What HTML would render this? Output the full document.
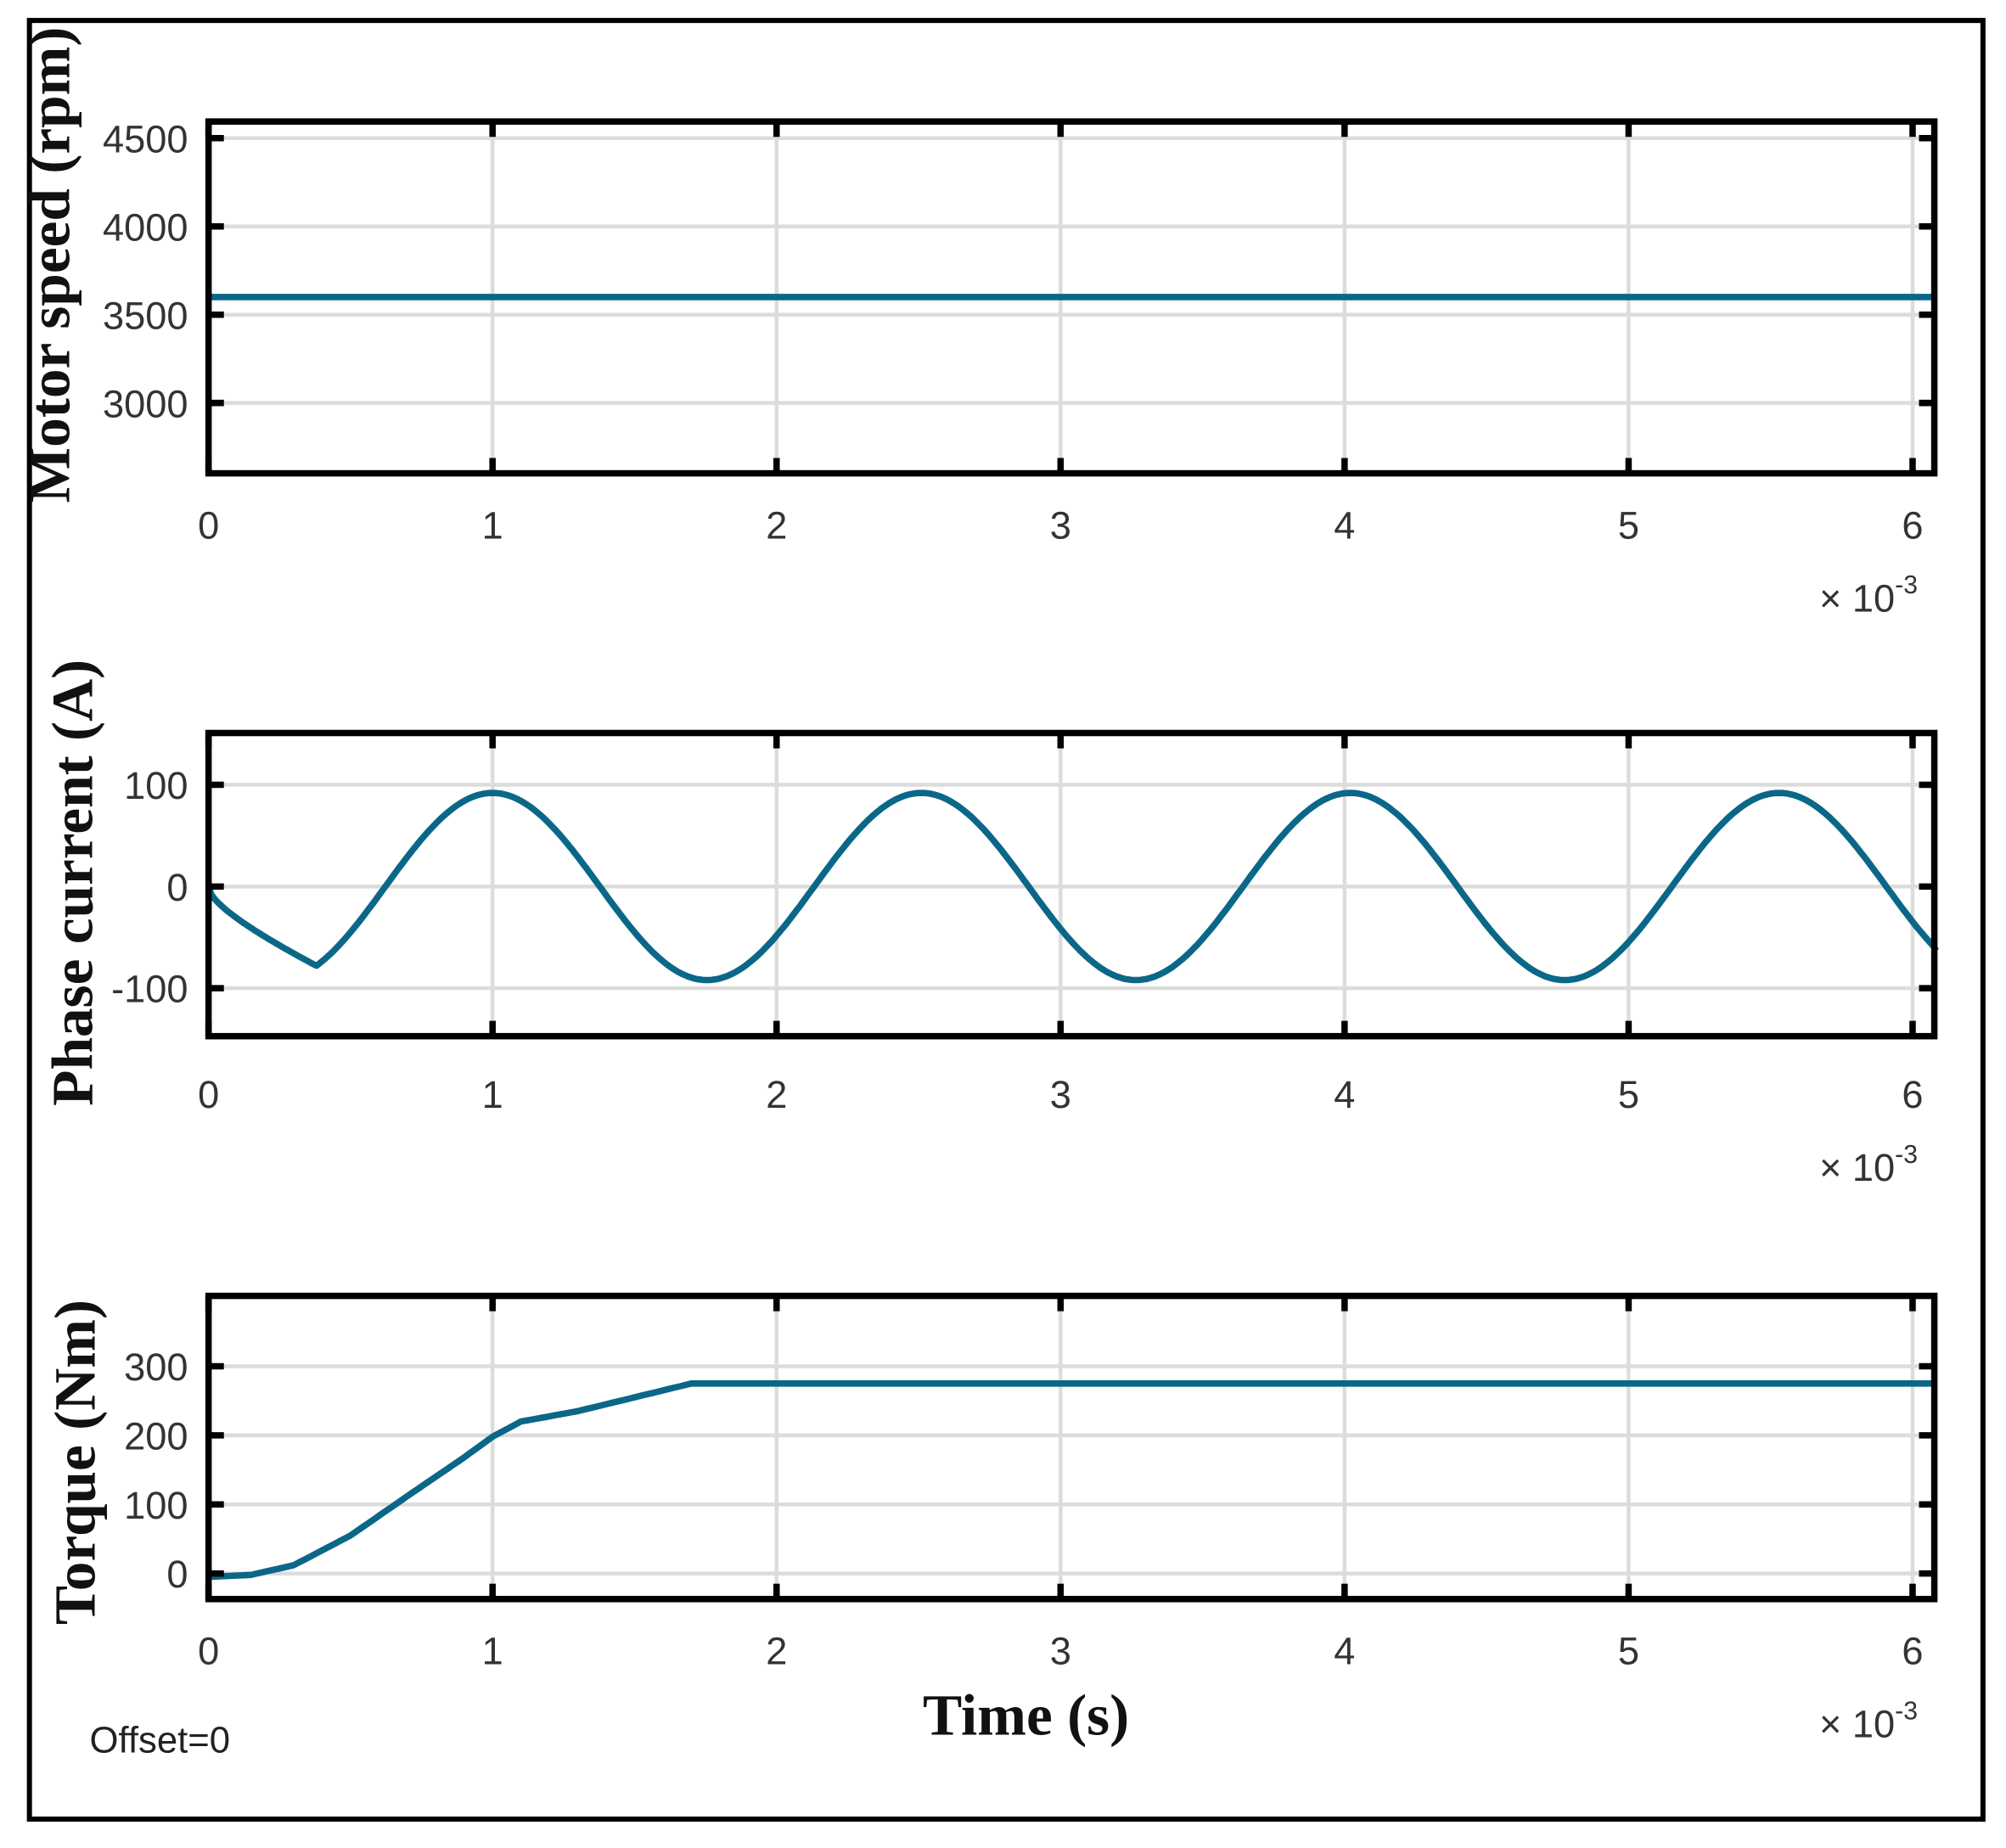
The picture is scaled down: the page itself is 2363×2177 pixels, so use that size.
<!DOCTYPE html>
<html><head><meta charset="utf-8"><style>
html,body{margin:0;padding:0;background:#fff;}
svg{display:block;}
</style></head><body>
<svg id="s" width="2363" height="2177" viewBox="0 0 1568 1444.6" xmlns="http://www.w3.org/2000/svg">
<rect x="0" y="0" width="1568" height="1445" fill="#fff"/>
<rect x="23" y="16" width="1527" height="1406" fill="none" stroke="#000" stroke-width="4"/>
<g id="g"></g>
<g font-family="Liberation Sans, sans-serif" font-size="30" fill="#333" id="t"></g>
<g font-family="Liberation Serif, serif" font-weight="bold" font-size="46" fill="#111">
<text transform="translate(54,207) rotate(-90)" text-anchor="middle">Motor speed (rpm)</text>
<text transform="translate(72,690) rotate(-90)" text-anchor="middle">Phase current (A)</text>
<text transform="translate(74,1143) rotate(-90)" text-anchor="middle">Torque (Nm)</text>
<text x="802" y="1356" text-anchor="middle">Time (s)</text>
</g>
<text x="70" y="1370" font-family="Liberation Sans, sans-serif" font-size="29" fill="#222">Offset=0</text>
</svg>
<script>
const NS="http://www.w3.org/2000/svg";
const g=document.getElementById('g'), tg=document.getElementById('t');
function el(p,n,a,txt){const e=document.createElementNS(NS,n);for(const k in a)e.setAttribute(k,a[k]);if(txt!==undefined)e.textContent=txt;p.appendChild(e);return e;}
const L=163,R=1512,U=222;
const X=t=>L+U*t;
function panel(top,bot,yt,Y,pts,labY,expY){
  for(let i=0;i<=6;i++) el(g,'line',{x1:X(i),x2:X(i),y1:top,y2:bot,stroke:'#dcdcdc','stroke-width':3});
  yt.forEach(v=>el(g,'line',{x1:L,x2:R,y1:Y(v),y2:Y(v),stroke:'#dcdcdc','stroke-width':3}));
  el(g,'polyline',{points:pts.map(p=>X(p[0]).toFixed(1)+','+Y(p[1]).toFixed(1)).join(' '),fill:'none',stroke:'#0b6788','stroke-width':5,'stroke-linejoin':'round'});
  el(g,'rect',{x:L,y:top,width:R-L,height:bot-top,fill:'none',stroke:'#000','stroke-width':5});
  for(let i=0;i<=6;i++){el(g,'line',{x1:X(i),x2:X(i),y1:top,y2:top+12,stroke:'#000','stroke-width':5});el(g,'line',{x1:X(i),x2:X(i),y1:bot,y2:bot-12,stroke:'#000','stroke-width':5});
    el(tg,'text',{x:X(i),y:labY,'text-anchor':'middle'},String(i));}
  yt.forEach(v=>{el(g,'line',{x1:L,x2:L+12,y1:Y(v),y2:Y(v),stroke:'#000','stroke-width':5});el(g,'line',{x1:R,x2:R-12,y1:Y(v),y2:Y(v),stroke:'#000','stroke-width':5});
    el(tg,'text',{x:L-16,y:Y(v)+11,'text-anchor':'end'},String(v));});
  const e=el(tg,'text',{x:1422,y:expY});e.innerHTML='× 10<tspan dy="-14" font-size="20">-3</tspan>';
}
let p1=[[0,3600],[6.08,3600]];
panel(95,370,[3000,3500,4000,4500],v=>108+(4500-v)*69/500,p1,421,478);
let p2=[];
for(let t=0;t<=6.08;t+=0.01){let v;
  if(t<0.38){const a=t/0.38; v=-78*(Math.sqrt(a)*0.55+a*0.45);}
  else v=92*Math.cos(2*Math.PI*(t-1.0)/1.51);
  p2.push([t,v]);}
p2.push([6.08,-60]);
panel(573,810,[-100,0,100],v=>693-v*0.795,p2,866,923);
const tk=[[0,-5],[0.15,-2],[0.3,12],[0.5,55],[0.7,112],[0.9,168],[1.0,198],[1.1,220],[1.3,235],[1.5,255],[1.7,275],[6.08,275]];
let p3=[];for(let i=0;i<tk.length-1;i++){const[a,b]=tk[i],[c,d]=tk[i+1];const n=Math.max(2,Math.round((c-a)/0.02));for(let k=0;k<n;k++){p3.push([a+(c-a)*k/n,b+(d-b)*k/n]);}}
p3.push([6.08,275]);
panel(1013,1250,[0,100,200,300],v=>1230-v*0.54,p3,1301,1358);
</script>
</body></html>
